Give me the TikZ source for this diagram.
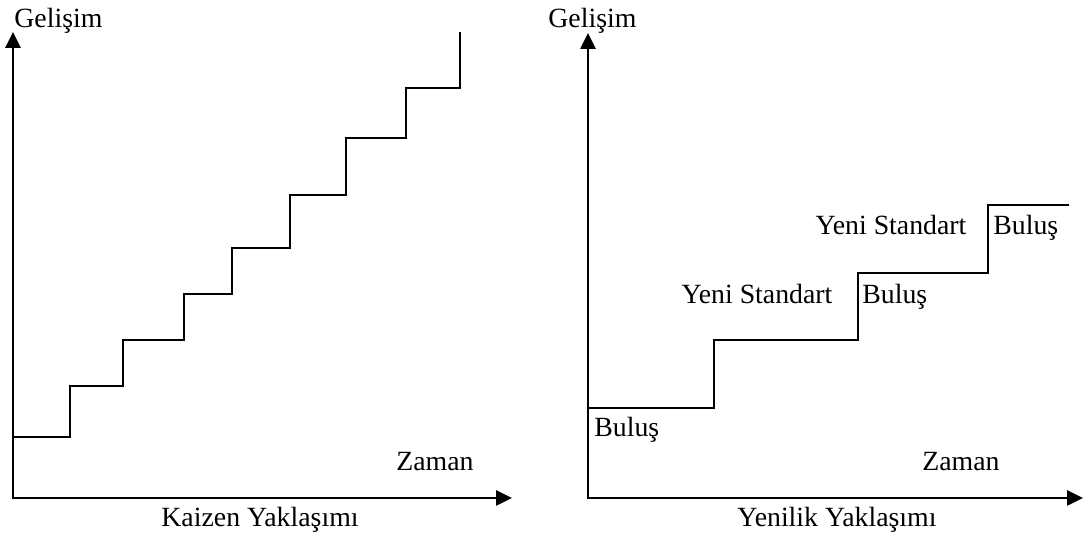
\documentclass[tikz,border=0pt]{standalone}
\usepackage{fontspec}
\setmainfont{Liberation Serif}
\usetikzlibrary{arrows.meta}
\begin{document}
\begin{tikzpicture}[x=0.5pt,y=-0.5pt,
  axis/.style={line width=1.3pt,{Triangle[length=8pt,width=7.5pt]}-{Triangle[length=8pt,width=7.5pt]}},
  stair/.style={line width=1.3pt},
  lbl/.style={inner sep=0pt,anchor=base west,font=\fontsize{13.9}{16}\selectfont},
  lblc/.style={lbl,anchor=base}]
\useasboundingbox (0,0) rectangle (1084,544);
% left chart
\coordinate (Ltop) at (13,32);
\coordinate (Lo) at (13,498);
\coordinate (Lright) at (512,498);
\draw[axis] (Ltop) -- (Lo) -- (Lright);
\draw[stair] (13,437) -- (70,437) -- (70,386) -- (123,386) -- (123,340) -- (184,340)
  -- (184,294) -- (232,294) -- (232,248) -- (290,248) -- (290,195) -- (346,195)
  -- (346,138) -- (406,138) -- (406,88) -- (460,88) -- (460,32);
\node[lbl] (gl) at (14,28) {Gelişim};
\node[lblc] (zl) at (435,471) {Zaman};
\node[lblc] (kl) at (260,527) {Kaizen Yaklaşımı};
% right chart
\coordinate (Rtop) at (588,33);
\coordinate (Ro) at (588,498);
\coordinate (Rright) at (1083,498);
\draw[axis] (Rtop) -- (Ro) -- (Rright);
\draw[stair] (588,408) -- (714,408) -- (714,340) -- (858,340) -- (858,273)
  -- (988,273) -- (988,205) -- (1069,205);
\node[lbl] (gr) at (548,28) {Gelişim};
\node[lblc] (zr) at (961,471) {Zaman};
\node[lblc] (yl) at (837,527) {Yenilik Yaklaşımı};
\node[lbl] (b1) at (594,437) {Buluş};
\node[lblc] (y1) at (757,304) {Yeni Standart};
\node[lbl] (b2) at (862,304) {Buluş};
\node[lblc] (y2) at (891,235) {Yeni Standart};
\node[lbl] (b3) at (993,235) {Buluş};
\end{tikzpicture}
\end{document}
